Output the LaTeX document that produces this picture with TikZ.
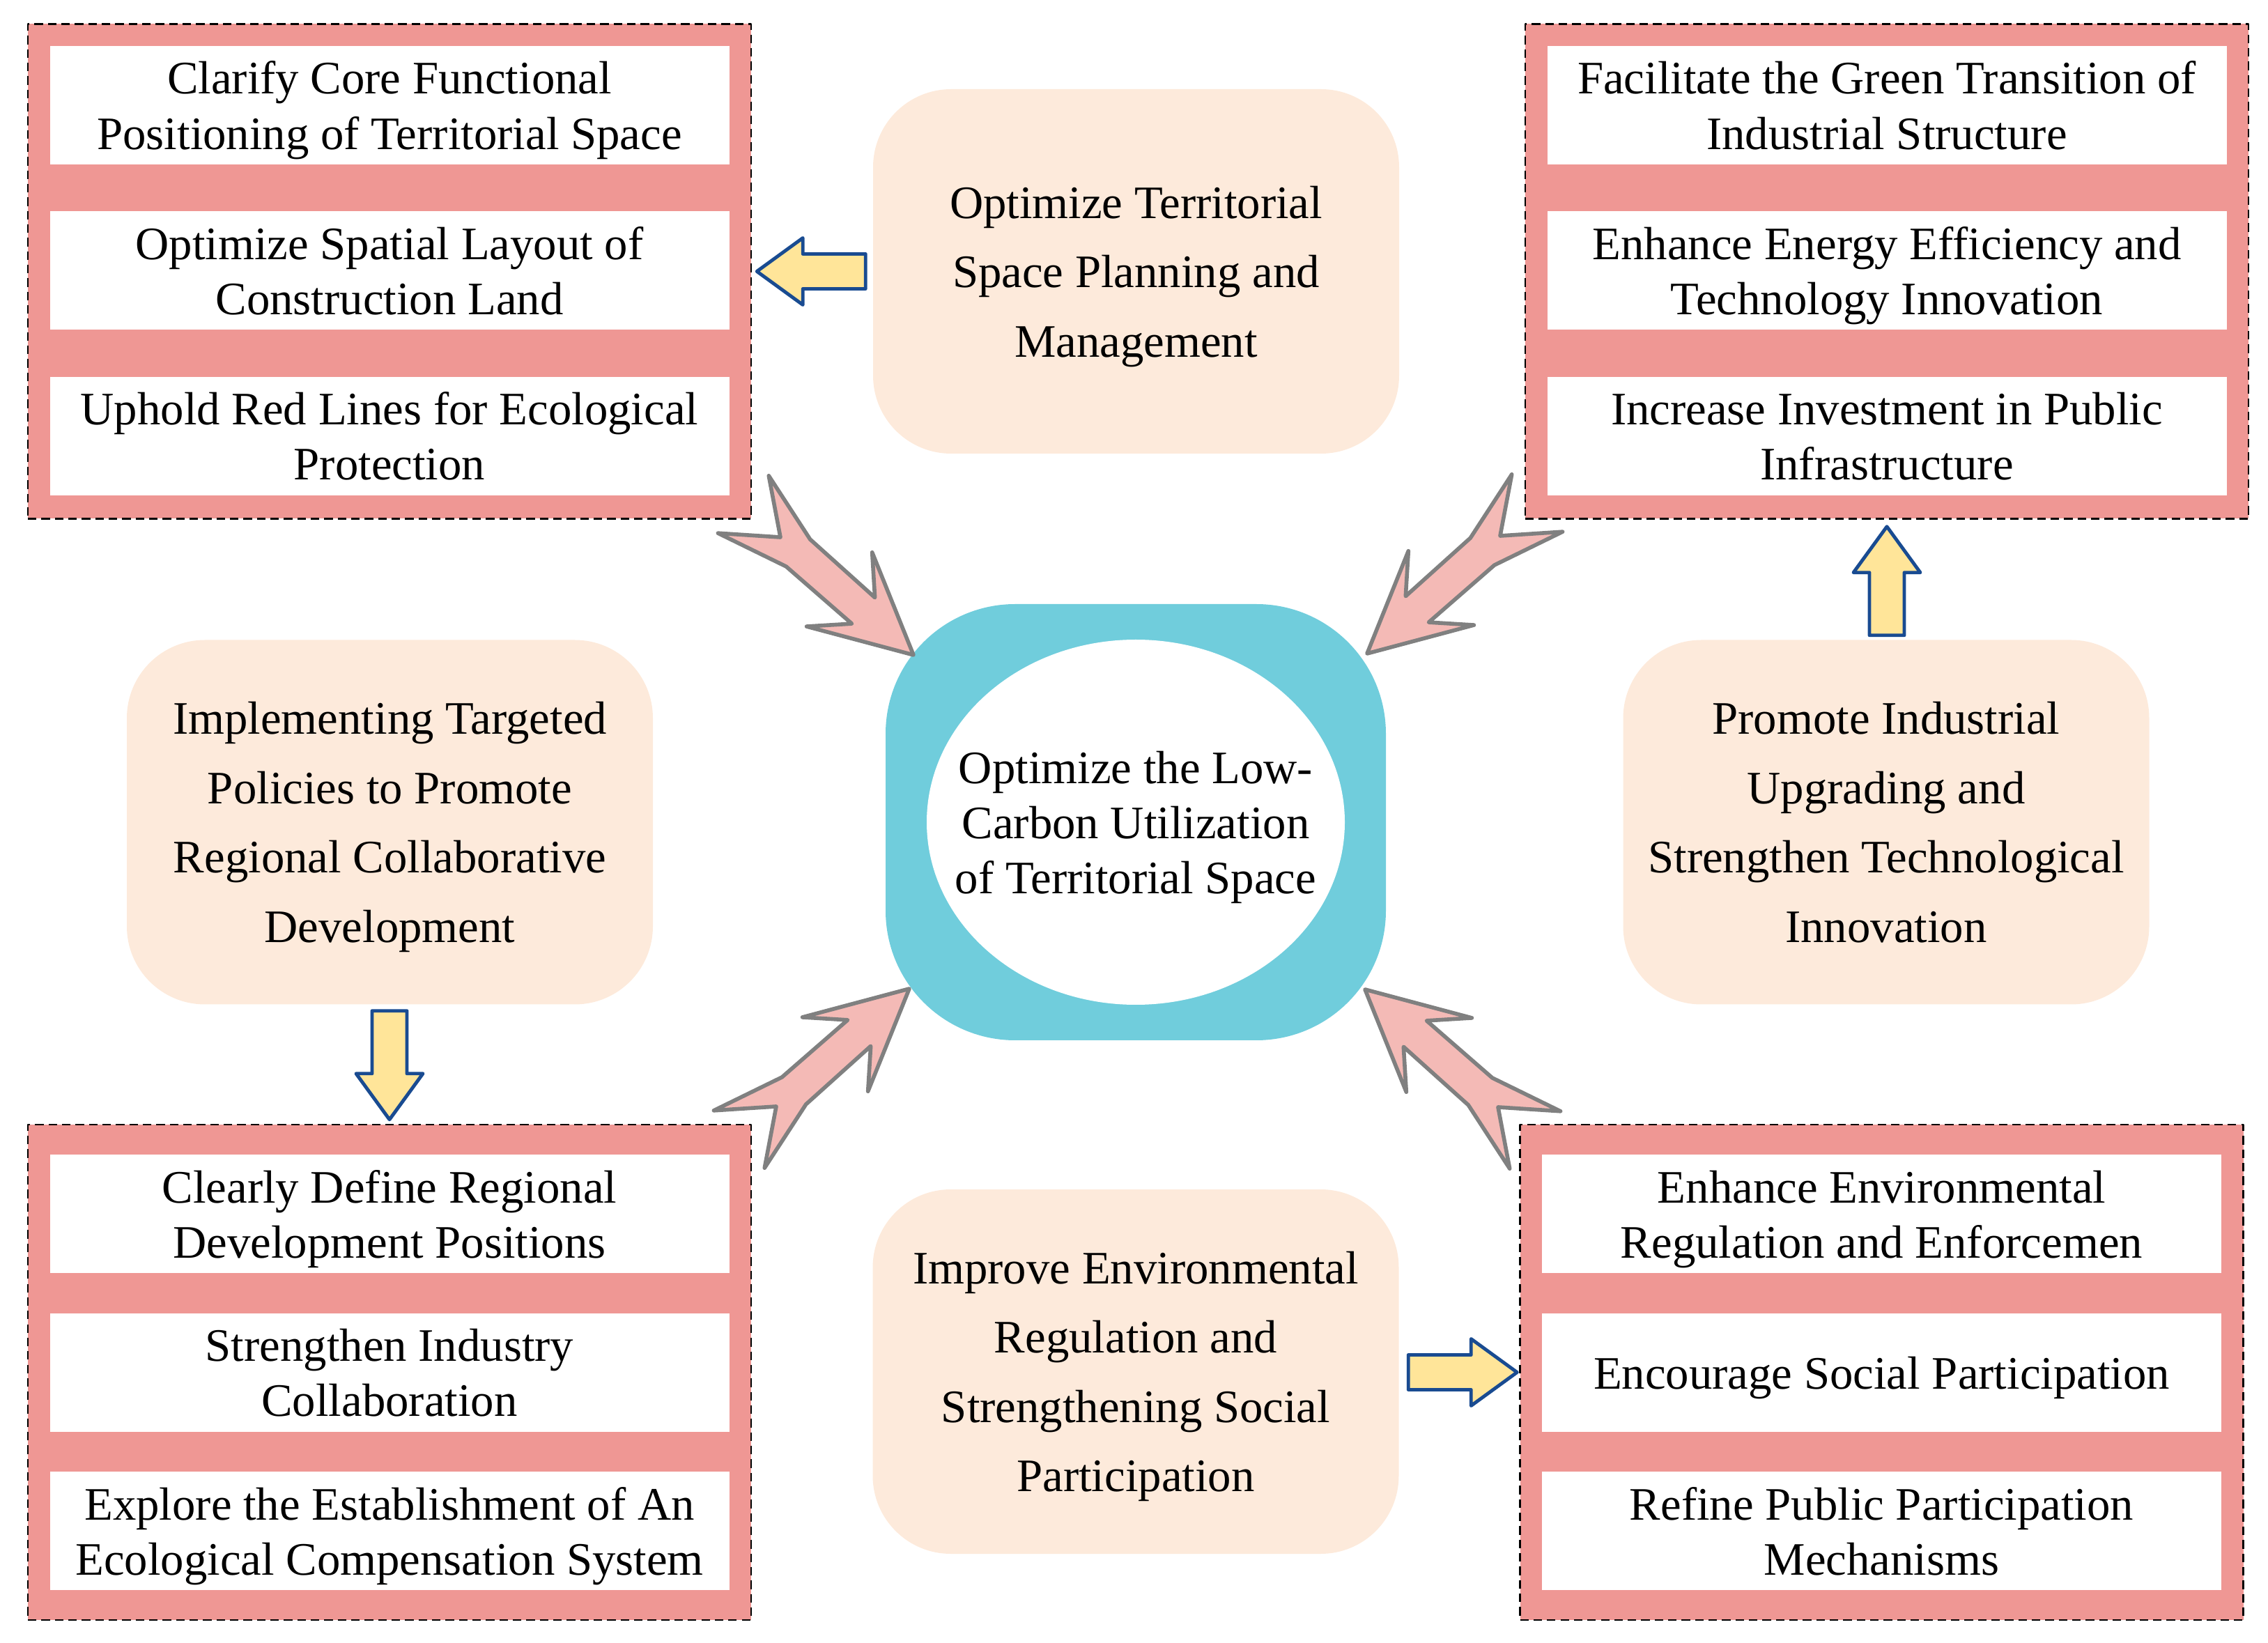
\documentclass[tikz,border=0pt]{standalone}
\usepackage{fontspec}
\setmainfont{Liberation Serif}
\usetikzlibrary{positioning,calc}
\definecolor{boxred}{RGB}{239,151,148}
\definecolor{peach}{RGB}{253,234,219}
\definecolor{ringblue}{RGB}{112,205,220}
\definecolor{arrowpink}{RGB}{244,186,182}
\definecolor{arrowyel}{RGB}{255,229,153}
\definecolor{arrowblue}{RGB}{25,75,145}
\newcommand{\pusharrow}[2]{\draw[yel,shift={#1},rotate=#2] (0,0)--(-0.66,0.48)--(-0.66,0.25)--(-1.56,0.25)--(-1.56,-0.25)--(-0.66,-0.25)--(-0.66,-0.48)--cycle;}
\newcommand{\feedarrow}[2]{\draw[pnk,shift={#1},rotate=#2] (0,0)--(-1.42,0.71)--(-0.96,0.25)--(-2.21,0.26)--(-3.26,0.55)--(-2.55,0)--(-3.26,-0.55)--(-2.21,-0.26)--(-0.96,-0.25)--(-1.42,-0.71)--cycle;}
\begin{document}
\begin{tikzpicture}[font=\fontsize{19}{22.5}\selectfont, line join=round,
	group/.style={draw, dash pattern=on 3.5pt off 2pt, line width=0.7pt, fill=boxred, minimum width=10.38cm, minimum height=7.1cm},
	item/.style={fill=white, minimum width=9.75cm, minimum height=1.7cm, align=center, inner sep=0pt, text depth=0pt},
	theme/.style={fill=peach, rounded corners=1.12cm, minimum width=7.55cm, minimum height=5.23cm, align=center, text depth=0pt, font=\fontsize{19}{28.3}\selectfont},
	yel/.style={draw=arrowblue, fill=arrowyel, line width=1.4pt},
	pnk/.style={draw=gray, fill=arrowpink, line width=1.6pt}]
	\useasboundingbox (0,0) rectangle (32.55,23.57);
	\node[group] (tl) at (5.59,19.675) {};
	\node[group] (tr) at (27.08,19.675) {};
	\node[group, minimum height=7.11cm] (bl) at (5.59,3.875) {};
	\node[group, minimum height=7.11cm] (br) at (27.005,3.875) {};
	\node[item, below=0.32cm of tl.north] (tl1) {Clarify Core Functional\\Positioning of Territorial Space};
	\node[item, below=0.66cm of tl1] (tl2) {Optimize Spatial Layout of\\Construction Land};
	\node[item, below=0.66cm of tl2] (tl3) {Uphold Red Lines for Ecological\\Protection};
	\node[item, below=0.32cm of tr.north] (tr1) {Facilitate the Green Transition of\\Industrial Structure};
	\node[item, below=0.66cm of tr1] (tr2) {Enhance Energy Efficiency and\\Technology Innovation};
	\node[item, below=0.66cm of tr2] (tr3) {Increase Investment in Public\\Infrastructure};
	\node[item, below=0.44cm of bl.north] (bl1) {Clearly Define Regional\\Development Positions};
	\node[item, below=0.56cm of bl1] (bl2) {Strengthen Industry\\Collaboration};
	\node[item, below=0.56cm of bl2] (bl3) {Explore the Establishment of An\\Ecological Compensation System};
	\node[item, below=0.44cm of br.north] (br1) {Enhance Environmental\\Regulation and Enforcemen};
	\node[item, below=0.56cm of br1] (br2) {Encourage Social Participation};
	\node[item, below=0.56cm of br2] (br3) {Refine Public Participation\\Mechanisms};
	\node[fill=ringblue, rounded corners=1.86cm, minimum width=7.18cm, minimum height=6.26cm] (ring) at (16.30,11.77) {};
	\fill[white] (ring.center) ellipse [x radius=3cm, y radius=2.62cm];
	\node[align=center, text depth=0pt] (core) at (ring) {Optimize the Low-\\Carbon Utilization\\of Territorial Space};
	\node[theme] (plan) at (16.305,19.675) {Optimize Territorial\\Space Planning and\\Management};
	\node[theme] (region) at (5.595,11.77) {Implementing Targeted\\Policies to Promote\\Regional Collaborative\\Development};
	\node[theme] (industry) at (27.07,11.77) {Promote Industrial\\Upgrading and\\Strengthen Technological\\Innovation};
	\node[theme] (social) at (16.30,3.885) {Improve Environmental\\Regulation and\\Strengthening Social\\Participation};
	\pusharrow{($(tl.east)+(0.07,0)$)}{180}
	\pusharrow{($(bl.north)+(0,0.06)$)}{-90}
	\pusharrow{($(tr.south)+(0,-0.10)$)}{90}
	\pusharrow{($(br.west)+(-0.03,0)$)}{0}
	\feedarrow{($(ring.center)+(-3.19,2.40)$)}{-41.5}
	\feedarrow{($(ring.center)+(3.32,2.42)$)}{221.5}
	\feedarrow{($(ring.center)+(-3.25,-2.39)$)}{41.5}
	\feedarrow{($(ring.center)+(3.29,-2.40)$)}{138.5}
\end{tikzpicture}
\end{document}
